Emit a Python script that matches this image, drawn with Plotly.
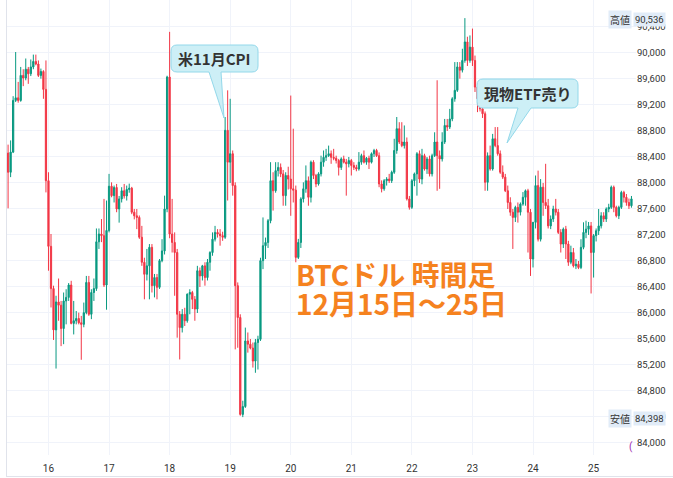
import pandas as pd
import plotly.graph_objects as go

# ---------------- data (BTC/USD, 1h candles) ----------------
start_time = "2025-12-15 08:00"

opens = [
    88460, 88165, 88475, 89270, 89310, 89270, 89655, 89615, 89750, 89680, 89785, 89870, 89830, 89655, 89715, 89440,
    88035, 87025, 86375, 85740, 86170, 86120, 85760, 86185, 86240, 86430, 85840, 85880, 85915, 85850, 85825, 86005,
    86470, 85980, 86315, 86375, 87095, 87215, 87190, 86430,
    87270, 87950, 87805, 87930, 87600, 87755, 87880, 87800, 87900, 87920, 87550, 87495, 87470, 87165, 86780, 86595,
    86725, 87010, 86420, 86545, 86395, 86805, 86955, 87600,
    89630, 87215, 87085, 86930, 85980, 85775, 85980, 85880, 86290, 86315, 86210, 86060, 86650, 86570, 86725, 86545,
    86780, 86930, 87135, 87240, 87215, 87190, 87165, 88810,
    88320, 88450, 87960, 86420, 85930, 84440, 84560, 85570, 85520, 85460, 85260, 85545, 85595, 86805, 87035, 87085,
    87420, 88035, 87880, 88190, 88240, 88140, 87805, 88115,
    88060, 87910, 87890, 86855, 87085, 87755, 87910, 88035, 87780, 88320, 88115, 87985, 88140, 88320, 88395, 88420,
    88450, 88395, 88380, 88345, 88240, 88370, 88320, 88295,
    88345, 88270, 88240, 88215, 88320, 88420, 88320, 88380, 88320, 88450, 88500, 88420, 87985, 87910, 88035, 88060,
    88035, 88165, 88500, 88835, 88630, 88575, 88630, 87755,
    87625, 88035, 88140, 88450, 88060, 88420, 88215, 88370, 88140, 88420, 88630, 88420, 88370, 88630, 88885, 88860,
    88985, 89295, 89425, 89785, 89735, 89885, 90170, 89885,
    90090, 89885, 89475, 89295, 89140, 89065, 88010, 88420, 88215, 88680, 88575, 88450, 88165, 88090, 87880, 87700,
    87550, 87470, 87625, 87550, 87675, 87780, 87880, 87550,
    86830, 87395, 87960, 87135, 87935, 87700, 87650, 87340, 87445, 87600, 87550, 87240, 87060, 87290, 87060, 86780,
    86930, 86725, 86750, 86700, 87010, 87240, 87290, 87340,
    86930, 87190, 87265, 87340, 87495, 87445, 87600, 87625, 87935, 87625, 87495, 87625, 87855, 87780, 87700, 87650,
]

highs = [
    88590, 88655, 89335, 90015, 89555, 89785, 89750, 89915, 89785, 89900, 89975, 89975, 89885, 89760, 89735, 89885,
    88165, 87215, 86420, 86265, 86530, 86185, 86315, 86365, 86460, 86495, 86185, 86030, 86005, 85955, 86160, 86570,
    86570, 86365, 86530, 87300, 87300, 87445, 87755, 87730,
    88140, 88010, 87960, 87985, 87800, 87935, 87985, 87960, 87990, 87940, 87600, 87600, 87500, 87340, 86850, 86985,
    87060, 87060, 86600, 86600, 86830, 87135, 87805, 89650,
    90325, 87755, 87240, 86985, 86030, 86060, 86080, 86300, 86365, 86340, 86260, 86725, 86700, 86740, 86780, 86830,
    86950, 87240, 87340, 87290, 87290, 87250, 89015, 89425,
    89295, 88500, 88010, 86470, 85980, 84650, 85775, 85700, 85600, 85545, 85600, 85650, 86850, 87470, 87160, 87445,
    88320, 88165, 88320, 88320, 88300, 88200, 88165, 88250,
    89345, 88835, 87960, 87140, 87780, 88010, 88270, 88100, 88345, 88350, 88140, 88165, 88420, 88500, 88525, 88575,
    88500, 88525, 88420, 88370, 88395, 88420, 88370, 88400,
    88370, 88320, 88280, 88475, 88450, 88500, 88400, 88420, 88470, 88525, 88525, 88470, 88040, 88060, 88090, 88140,
    88190, 88680, 89015, 88935, 88935, 88885, 88700, 87800,
    88060, 88160, 88475, 88500, 88525, 88450, 88400, 88420, 88450, 88780, 89580, 88500, 88780, 88985, 88985, 89140,
    89320, 89860, 89860, 89860, 90065, 90536, 90250, 90270,
    90375, 89960, 89530, 89350, 89195, 89100, 88470, 88575, 88755, 88860, 88860, 88500, 88270, 88140, 87960, 87780,
    87600, 87650, 87700, 87700, 87860, 87900, 87910, 87600,
    87400, 88115, 88190, 88060, 88000, 88295, 87755, 87500, 87650, 87755, 87600, 87290, 87315, 87340, 87110, 87035,
    87000, 86830, 86800, 87135, 87395, 87420, 87400, 87400,
    87215, 87300, 87600, 87550, 87550, 87625, 87680, 87960, 87960, 87650, 87650, 87880, 87880, 87830, 87760, 87800,
]

lows = [
    87610, 88090, 88460, 89245, 89235, 89250, 89490, 89580, 89525, 89645, 89750, 89810, 89630, 89605, 89295, 87855,
    86650, 86085, 85585, 85145, 85880, 85490, 85520, 85825, 86185, 85825, 85670, 85825, 85825, 85280, 85780, 85980,
    85955, 85905, 86185, 86340, 86985, 87090, 86400, 86050,
    87240, 87780, 87700, 87550, 87390, 87700, 87760, 87730, 87850, 87520, 87440, 87290, 87140, 86725, 86210, 86500,
    86210, 86315, 86240, 86210, 86370, 86780, 86900, 87550,
    87150, 86930, 86265, 85620, 85285, 85700, 85800, 85850, 85980, 86060, 85880, 86000, 86400, 86500, 86420, 86500,
    86650, 86880, 87100, 87160, 87035, 87110, 87140, 87730,
    88000, 87805, 85440, 85465, 84420, 84398, 84540, 85390, 85440, 85160, 85080, 85130, 85570, 86675, 86830, 87000,
    87380, 87575, 87850, 88100, 88090, 87650, 87650, 87900,
    87495, 87700, 86780, 86830, 87000, 87700, 87850, 87650, 87700, 88060, 87935, 87960, 88100, 88250, 88340, 88400,
    88295, 88350, 88300, 88115, 88200, 88300, 87805, 88240,
    88115, 88200, 88180, 88190, 88280, 88300, 88280, 88215, 88300, 88400, 88400, 87935, 87855, 87880, 87960, 88000,
    88000, 88140, 88450, 88600, 88550, 88530, 87730, 87590,
    87600, 87950, 87805, 88000, 87980, 88190, 88140, 88100, 88100, 88400, 87880, 87910, 88330, 88600, 88800, 88830,
    88950, 89250, 89400, 89605, 89700, 89850, 89800, 89850,
    89800, 89400, 89090, 89100, 89000, 87880, 87880, 88190, 88190, 88550, 88420, 88140, 88060, 87860, 87600, 87495,
    86985, 87400, 87390, 87500, 87650, 87650, 86930, 86570,
    86700, 87300, 87100, 87100, 87495, 87600, 87300, 87290, 87400, 87500, 87215, 86930, 87000, 86830, 86725, 86750,
    86700, 86675, 86675, 86675, 86980, 87150, 87200, 86300,
    86545, 87100, 87200, 87300, 87400, 87400, 87550, 87600, 87550, 87470, 87445, 87600, 87700, 87650, 87600, 87620,
]

closes = [
    88165, 88475, 89270, 89310, 89270, 89655, 89615, 89750, 89680, 89785, 89870, 89830, 89655, 89715, 89440, 88035,
    87025, 86375, 85740, 86170, 86120, 85760, 86185, 86240, 86430, 85840, 85880, 85915, 85850, 85825, 86005, 86470,
    85980, 86315, 86375, 87095, 87215, 87190, 86430, 87270,
    87950, 87805, 87930, 87600, 87755, 87880, 87800, 87900, 87920, 87550, 87495, 87470, 87165, 86780, 86595, 86725,
    87010, 86420, 86545, 86395, 86805, 86955, 87600, 89630,
    87215, 87085, 86930, 85980, 85775, 85980, 85880, 86290, 86315, 86210, 86060, 86650, 86570, 86725, 86545, 86780,
    86930, 87135, 87240, 87215, 87190, 87165, 88810, 88320,
    88450, 87960, 86420, 85930, 84440, 84560, 85570, 85520, 85460, 85260, 85545, 85595, 86805, 87035, 87085, 87420,
    88035, 87880, 88190, 88240, 88140, 87805, 88115, 88060,
    87910, 87890, 86855, 87085, 87755, 87910, 88035, 87780, 88320, 88115, 87985, 88140, 88320, 88395, 88420, 88450,
    88395, 88380, 88345, 88240, 88370, 88320, 88295, 88345,
    88270, 88240, 88215, 88320, 88420, 88320, 88380, 88320, 88450, 88500, 88420, 87985, 87910, 88035, 88060, 88035,
    88165, 88500, 88835, 88630, 88575, 88630, 87755, 87625,
    88035, 88140, 88450, 88060, 88420, 88215, 88370, 88140, 88420, 88630, 88420, 88370, 88630, 88885, 88860, 88985,
    89295, 89425, 89785, 89735, 89885, 90170, 89885, 90090,
    89885, 89475, 89295, 89140, 89065, 88010, 88420, 88215, 88680, 88575, 88450, 88165, 88090, 87880, 87700, 87550,
    87470, 87625, 87550, 87675, 87780, 87880, 87550, 86830,
    87395, 87960, 87135, 87935, 87700, 87650, 87340, 87445, 87600, 87550, 87240, 87060, 87290, 87060, 86780, 86930,
    86725, 86750, 86700, 87010, 87240, 87290, 87340, 86930,
    87190, 87265, 87340, 87495, 87445, 87600, 87625, 87935, 87625, 87495, 87625, 87855, 87780, 87700, 87650, 87755,
]

day_ticks_start = "2025-12-16"
high_label, high_value = "高値", "90,536"
low_label, low_value = "安値", "84,398"
cpi_text = "米11月CPI"
etf_text = "現物ETF売り"
title_line1 = "BTCドル 時間足"
title_line2 = "12月15日～25日"

times = pd.date_range(start_time, periods=len(closes), freq="h")

# ---------------- layout helpers ----------------
W, H = 673, 478
L, R, T, B = 7, 37, 0, 23
PW, PH = W - L - R, H - T - B


def px(x):
    return (x - L) / PW


def py(y):
    return 1 - (y - T) / PH


def callout_path(x0, y0, x1, y1, r, bx0, bx1, tx, ty):
    pts = []
    pts.append(f"M{px(x0 + r)},{py(y0)}")
    pts.append(f"L{px(x1 - r)},{py(y0)}")
    pts.append(f"Q{px(x1)},{py(y0)} {px(x1)},{py(y0 + r)}")
    pts.append(f"L{px(x1)},{py(y1 - r)}")
    pts.append(f"Q{px(x1)},{py(y1)} {px(x1 - r)},{py(y1)}")
    pts.append(f"L{px(bx1)},{py(y1)}")
    pts.append(f"L{px(tx)},{py(ty)}")
    pts.append(f"L{px(bx0)},{py(y1)}")
    pts.append(f"L{px(x0 + r)},{py(y1)}")
    pts.append(f"Q{px(x0)},{py(y1)} {px(x0)},{py(y1 - r)}")
    pts.append(f"L{px(x0)},{py(y0 + r)}")
    pts.append(f"Q{px(x0)},{py(y0)} {px(x0 + r)},{py(y0)}")
    pts.append("Z")
    return " ".join(pts)


UP, DOWN = "#089981", "#f23645"
GRID = "#f0f3fa"
TXT = "#333333"
JP = "Noto Sans CJK JP, Noto Sans, sans-serif"

fig = go.Figure(
    go.Candlestick(
        x=times, open=opens, high=highs, low=lows, close=closes,
        increasing=dict(line=dict(color=UP, width=1), fillcolor=UP),
        decreasing=dict(line=dict(color=DOWN, width=1), fillcolor=DOWN),
        whiskerwidth=0, showlegend=False, hoverinfo="skip",
    )
)

fig.update_layout(
    width=W, height=H,
    margin=dict(l=L, r=R, t=T, b=B, pad=0, autoexpand=False),
    paper_bgcolor="white", plot_bgcolor="white",
    showlegend=False,
    font=dict(family="Roboto, Noto Sans, sans-serif", color=TXT),
    xaxis=dict(
        type="date", range=["2025-12-15 07:34", "2025-12-25 16:48"],
        rangeslider=dict(visible=False), automargin=False,
        tickmode="linear", tick0=day_ticks_start, dtick=86400000, tickformat="%-d",
        showgrid=True, gridcolor=GRID, gridwidth=1, ticks="", ticklabelstandoff=6,
        tickfont=dict(size=10, color=TXT), showline=False, zeroline=False,
    ),
    yaxis=dict(
        side="right", range=[83815, 90815], automargin=False,
        tickmode="linear", tick0=84000, dtick=400, tickformat=",d",
        showgrid=True, gridcolor=GRID, gridwidth=1, ticks="",
        tickfont=dict(size=9.5, color=TXT), showline=False, zeroline=False,
    ),
)

shapes = []
# frame lines
shapes.append(dict(type="line", xref="paper", yref="paper", x0=px(6.5), x1=px(6.5), y0=py(0), y1=py(477),
                   line=dict(color="#e0e3eb", width=1)))
shapes.append(dict(type="line", xref="paper", yref="paper", x0=px(6.5), x1=px(673), y0=py(476.5), y1=py(476.5),
                   line=dict(color="#e0e3eb", width=1)))
# callouts
shapes.append(dict(type="path", xref="paper", yref="paper",
                   path=callout_path(171, 45, 258, 72, 6, 209, 221, 224, 118),
                   fillcolor="#cdeff6", line=dict(color="#93d8ea", width=1)))
shapes.append(dict(type="path", xref="paper", yref="paper",
                   path=callout_path(477, 79, 578, 108, 6, 518, 531, 507, 143),
                   fillcolor="#cdeff6", line=dict(color="#93d8ea", width=1)))
fig.update_layout(shapes=shapes)

ann = []
ann.append(dict(xref="paper", yref="paper", x=px(214.5), y=py(59), text=f"<b>{cpi_text}</b>", showarrow=False,
                font=dict(family=JP, size=15, color=TXT), xanchor="center", yanchor="middle"))
ann.append(dict(xref="paper", yref="paper", x=px(527.5), y=py(94), text=f"<b>{etf_text}</b>", showarrow=False,
                font=dict(family=JP, size=15, color=TXT), xanchor="center", yanchor="middle"))
ann.append(dict(xref="paper", yref="paper", x=px(294), y=py(274), text=f"<b>{title_line1}</b>", showarrow=False,
                font=dict(family=JP, size=28, color="#f5821f"), xanchor="left", yanchor="middle"))
ann.append(dict(xref="paper", yref="paper", x=px(294), y=py(303), text=f"<b>{title_line2}</b>", showarrow=False,
                font=dict(family=JP, size=28, color="#f5821f"), xanchor="left", yanchor="middle"))
# high / low badges on the price scale
for lab, val, yy in [(high_label, high_value, 20), (low_label, low_value, 418)]:
    ann.append(dict(xref="paper", yref="paper", x=px(620), y=py(yy), text=lab, showarrow=False,
                    font=dict(family=JP, size=10, color=TXT), bgcolor="#e1ecf8", borderpad=1,
                    xanchor="center", yanchor="middle"))
    ann.append(dict(xref="paper", yref="paper", x=px(649), y=py(yy), text=val, showarrow=False,
                    font=dict(size=9.5, color=TXT), bgcolor="#e1ecf8", borderpad=1,
                    xanchor="center", yanchor="middle"))
ann.append(dict(xref="paper", yref="paper", x=px(631), y=py(447), text="(", showarrow=False,
                font=dict(size=10, color="#9c27b0"), xanchor="center", yanchor="middle"))
fig.update_layout(annotations=ann)

fig.write_html(
    "out.html",
    config={"displayModeBar": False},
    post_script="document.body.style.margin='0px';document.body.style.padding='0px';",
)
